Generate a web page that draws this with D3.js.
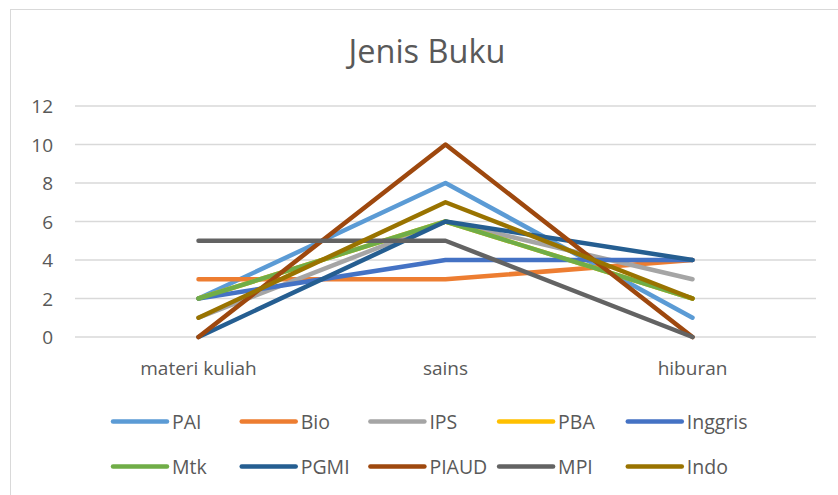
<!DOCTYPE html>
<html>
<head>
<meta charset="utf-8">
<script src="https://cdn.jsdelivr.net/npm/d3@7"></script>
<style>
  body { margin: 0; background: #fff; }
  text { font-family: "Open Sans", "Noto Sans", sans-serif; fill: #595959; }
</style>
</head>
<body>
<div id="chart"></div>
<script>
var width = 838, height = 495;

var categories = ["materi kuliah", "sains", "hiburan"];
var seriesNames = ["PAI", "Bio", "IPS", "PBA", "Inggris", "Mtk", "PGMI", "PIAUD", "MPI", "Indo"];
var seriesColors = ["#5B9BD5", "#ED7D31", "#A5A5A5", "#FFC000", "#4472C4",
                    "#70AD47", "#255E91", "#9E480E", "#636363", "#997300"];
var PAI = [2, 8, 1];
var Bio = [3, 3, 4];
var IPS = [1, 6, 3];
var PBA = [2, 6, 2];
var Inggris = [2, 4, 4];
var Mtk = [2, 6, 2];
var PGMI = [0, 6, 4];
var PIAUD = [0, 10, 0];
var MPI = [5, 5, 0];
var Indo = [1, 7, 2];
var yTicks = [0, 2, 4, 6, 8, 10, 12];

var seriesValues = [PAI, Bio, IPS, PBA, Inggris, Mtk, PGMI, PIAUD, MPI, Indo];
var series = seriesNames.map(function(name, i) {
  return { name: name, color: seriesColors[i], values: seriesValues[i] };
});

var svg = d3.select("#chart").append("svg")
  .attr("width", width)
  .attr("height", height);

// chart area border (runs off the right and bottom edges)
svg.append("rect")
  .attr("x", 10.5).attr("y", 9.5)
  .attr("width", 900).attr("height", 600)
  .attr("fill", "none")
  .attr("stroke", "#d9d9d9");

svg.append("text")
  .attr("x", 427)
  .attr("y", 63)
  .attr("text-anchor", "middle")
  .style("font-size", "32.5px")
  .text("Jenis Buku");

var x = d3.scaleBand().domain(categories).range([75, 816]);
var y = d3.scaleLinear().domain([0, 12]).range([337, 106]);

// gridlines
svg.append("g").selectAll("line")
  .data(yTicks)
  .enter().append("line")
  .attr("x1", 75).attr("x2", 816)
  .attr("y1", function(d) { return y(d); })
  .attr("y2", function(d) { return y(d); })
  .attr("stroke", "#d9d9d9")
  .attr("stroke-width", 1.3);

// y axis labels
var yAxis = d3.axisLeft(y).tickValues(yTicks).tickSize(0).tickPadding(0);
var yg = svg.append("g")
  .attr("transform", "translate(53,0)")
  .call(yAxis);
yg.select(".domain").remove();
yg.selectAll("text")
  .style("font-size", "19px")
  .style("font-family", null)
  .attr("fill", null)
  .attr("dy", "0.35em");

// x axis labels
var xAxis = d3.axisBottom(x).tickSize(0).tickPadding(0);
var xg = svg.append("g")
  .attr("transform", "translate(0,361)")
  .call(xAxis);
xg.select(".domain").remove();
xg.selectAll("text")
  .style("font-size", "19px")
  .style("font-family", null)
  .attr("fill", null)
  .attr("dy", "0.71em");

var line = d3.line()
  .x(function(d, i) { return x(categories[i]) + x.bandwidth() / 2; })
  .y(function(d) { return y(d); });

svg.append("g").selectAll("path")
  .data(series)
  .enter().append("path")
  .attr("d", function(d) { return line(d.values); })
  .attr("fill", "none")
  .attr("stroke", function(d) { return d.color; })
  .attr("stroke-width", 4.5)
  .attr("stroke-linecap", "round")
  .attr("stroke-linejoin", "round");

// legend, two rows of five
var legend = svg.append("g").selectAll("g")
  .data(series)
  .enter().append("g")
  .attr("transform", function(d, i) {
    return "translate(" + (113 + (i % 5) * 128.7) + "," + (421.5 + Math.floor(i / 5) * 45) + ")";
  });

legend.append("line")
  .attr("x1", 0).attr("x2", 54)
  .attr("stroke", function(d) { return d.color; })
  .attr("stroke-width", 4.5)
  .attr("stroke-linecap", "round");

legend.append("text")
  .attr("x", 59)
  .attr("dy", "0.36em")
  .style("font-size", "19.5px")
  .text(function(d) { return d.name; });
</script>
</body>
</html>
